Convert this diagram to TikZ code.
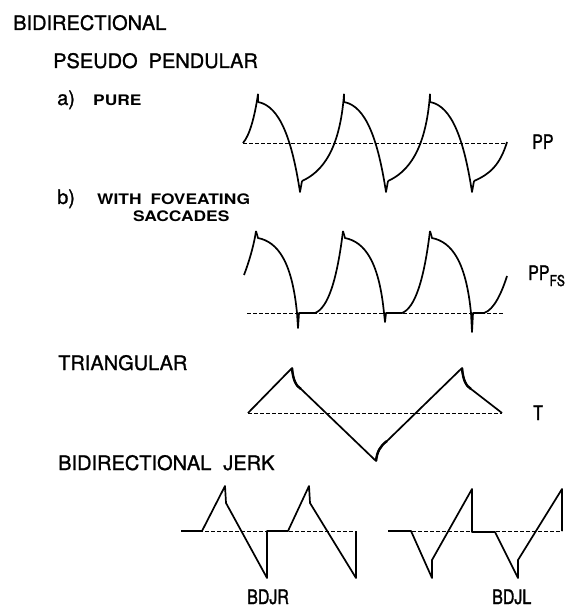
\documentclass[tikz,border=0pt]{standalone}
\usepackage{fontspec}
\setmainfont{TeX Gyre Heros}
\newfontfamily\headfont{TeX Gyre Heros}[FakeBold=1.2]
\newfontfamily\widefont{TeX Gyre Heros Bold}[FakeStretch=1.2]
\newfontfamily\narrowfont{TeX Gyre Heros}[FakeStretch=0.8,FakeBold=1.4]
\usetikzlibrary{positioning}

\begin{document}
\begin{tikzpicture}[x=1pt,y=-1pt,
  wave/.style={line width=1.7pt,line join=round},
  base/.style={line width=0.9pt,dash pattern=on 4pt off 2pt},
  head/.style={anchor=base west,inner sep=0,font=\headfont\fontsize{20}{20}\selectfont},
  sub/.style={anchor=base west,inner sep=0,font=\widefont\fontsize{14.5}{14.5}\selectfont},
  tag/.style={anchor=base west,inner sep=0,font=\narrowfont\fontsize{20}{20}\selectfont}]
\useasboundingbox(0,0)rectangle(581,609);
% headings
\node[head](nBidir)at(13,30){BIDIRECTIONAL};
\node[head](nPseudo)at(53,68){PSEUDO\hspace{11pt}PENDULAR};
\node[head](nA)at(57,105){a)};\node[sub](nPure)at(93,106){PURE};
\node[head](nB)at(57,204){b)};\node[sub](nWith)at(97,205){WITH\hspace{9pt}FOVEATING};
\node[sub](nSacc)at(133,222){SACCADES};
\node[head](nTri)at(58,370){TRIANGULAR};
\node[head](nJerk)at(58,470){BIDIRECTIONAL\hspace{12pt}JERK};
% labels
\node[tag](nPP)at(532,149){PP};
\node[tag](nPPfs)at(528,280){PP\raisebox{-6pt}{\fontsize{15}{15}\selectfont FS}};
\node[tag](nT)at(533,420){T};
\node[tag](nBDJR)at(247,604){BDJR};\node[tag](nBDJL)at(492,604){BDJL};
% pseudo pendular, pure
\draw[base](243,143)--(507,143);
\draw[wave](243,143)..controls(250,135)and(255,115)..(258,94);
\foreach \p in {258,344,430}{\draw[wave](\p,94)--(\p,102)..controls(\p+22,106)and(\p+34,140)..(\p+42,192)--(\p+44,181);}
\foreach \p in {258,344}{\draw[wave](\p+44,181)..controls(\p+64,172)and(\p+82,150)..(\p+86,94);}
\draw[wave](474,181)..controls(490,174)and(500,165)..(507,142);
% pseudo pendular, foveating saccades
\draw[base](247,313)--(503,313);
\draw[wave](244,275)..controls(249,262)and(254,245)..(256,231);
\foreach \p/\d in {256/328,343/322}{\draw[wave](\p,231)--(\p+2,238)..controls(\p+22,242)and(\p+36,262)..(\p+41,313)--(\p+42,\d)--(\p+43,313)--(\p+59,313)..controls(\p+72,308)and(\p+81,280)..(\p+87,231);}
\draw[wave](430,231)--(432,238)..controls(452,242)and(466,262)..(471,313)--(472,332)--(473,313)--(484,313)..controls(494,310)and(502,292)..(507,276);
% triangular
\draw[base](248,413)--(502,413);
\draw[wave](248,413)--(292,368)..controls(293,380)and(296,386)..(301,389)--(376,461)..controls(377,452)and(380,446)..(387,441)--(462,368)..controls(463,380)and(466,386)..(471,389)--(502,413);
\draw[wave,line width=2.4pt](292,368)..controls(293,380)and(296,386)..(301,389)(376,461)..controls(377,452)and(380,446)..(387,441)(462,368)..controls(463,380)and(466,386)..(471,389);
% bidirectional jerk
\draw[base](181,531)--(356,531);\draw[base](388,531)--(562,531);
\draw[wave](181,531)--(202,531)--(225,486)--(226,503)--(267,578)--(267,531)--(288,531)--(309,486)--(310,503)--(356,578)--(356,531);
\draw[wave](388,531)--(411,531)--(432,578)--(432,560)--(472,489)--(472,532)--(495,532)--(518,578)--(518,560)--(562,489)--(562,531);
\end{tikzpicture}
\end{document}
